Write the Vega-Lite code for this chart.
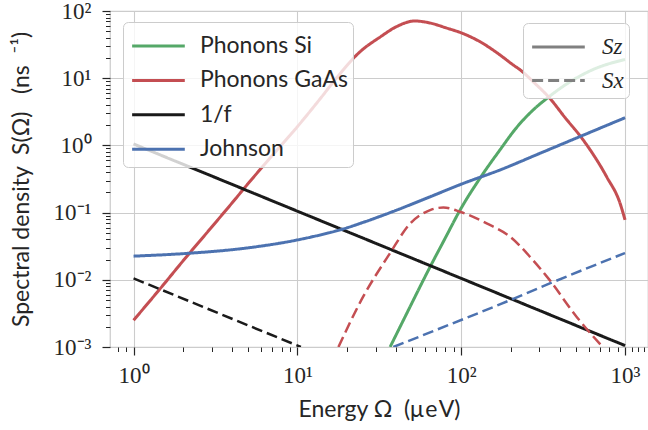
{
  "$schema": "https://vega.github.io/schema/vega-lite/v6.json",
  "width": 538,
  "height": 336,
  "autosize": {"type": "none"},
  "padding": {"left": 110, "top": 11, "right": 0, "bottom": 83},
  "background": "white",
  "config": {
    "font": "Lato",
    "view": {"stroke": "#cccccc", "strokeWidth": 1.25},
    "axis": {"domain": false, "labelColor": "#262626", "titleColor": "#262626", "tickColor": "#262626"},
    "legend": {"zindex": 5, "fillColor": "rgba(255,255,255,0.8)"}
  },
  "datasets": {
    "curves": [
      {"s": "Phonons Si", "p": "Sz", "x": 36.8, "y": 0.001},
      {"s": "Phonons Si", "p": "Sz", "x": 44.7, "y": 0.0026},
      {"s": "Phonons Si", "p": "Sz", "x": 64.6, "y": 0.0156},
      {"s": "Phonons Si", "p": "Sz", "x": 80, "y": 0.042},
      {"s": "Phonons Si", "p": "Sz", "x": 98.4, "y": 0.109},
      {"s": "Phonons Si", "p": "Sz", "x": 130, "y": 0.323},
      {"s": "Phonons Si", "p": "Sz", "x": 172, "y": 0.85},
      {"s": "Phonons Si", "p": "Sz", "x": 218, "y": 1.85},
      {"s": "Phonons Si", "p": "Sz", "x": 276, "y": 3.4},
      {"s": "Phonons Si", "p": "Sz", "x": 340, "y": 5.2},
      {"s": "Phonons Si", "p": "Sz", "x": 440, "y": 8.2},
      {"s": "Phonons Si", "p": "Sz", "x": 640, "y": 13.5},
      {"s": "Phonons Si", "p": "Sz", "x": 1000, "y": 19},

      {"s": "Phonons GaAs", "p": "Sz", "x": 1, "y": 0.0025},
      {"s": "Phonons GaAs", "p": "Sz", "x": 1.5, "y": 0.0081},
      {"s": "Phonons GaAs", "p": "Sz", "x": 2, "y": 0.019},
      {"s": "Phonons GaAs", "p": "Sz", "x": 3, "y": 0.061},
      {"s": "Phonons GaAs", "p": "Sz", "x": 4, "y": 0.14},
      {"s": "Phonons GaAs", "p": "Sz", "x": 5, "y": 0.27},
      {"s": "Phonons GaAs", "p": "Sz", "x": 7, "y": 0.7},
      {"s": "Phonons GaAs", "p": "Sz", "x": 10, "y": 1.9},
      {"s": "Phonons GaAs", "p": "Sz", "x": 14, "y": 5.2},
      {"s": "Phonons GaAs", "p": "Sz", "x": 17, "y": 9.5},
      {"s": "Phonons GaAs", "p": "Sz", "x": 24, "y": 24.5},
      {"s": "Phonons GaAs", "p": "Sz", "x": 32, "y": 41},
      {"s": "Phonons GaAs", "p": "Sz", "x": 40, "y": 58},
      {"s": "Phonons GaAs", "p": "Sz", "x": 52, "y": 71},
      {"s": "Phonons GaAs", "p": "Sz", "x": 65, "y": 66},
      {"s": "Phonons GaAs", "p": "Sz", "x": 81, "y": 56},
      {"s": "Phonons GaAs", "p": "Sz", "x": 103, "y": 46},
      {"s": "Phonons GaAs", "p": "Sz", "x": 130, "y": 35},
      {"s": "Phonons GaAs", "p": "Sz", "x": 165, "y": 24},
      {"s": "Phonons GaAs", "p": "Sz", "x": 208, "y": 15.7},
      {"s": "Phonons GaAs", "p": "Sz", "x": 229, "y": 13.3},
      {"s": "Phonons GaAs", "p": "Sz", "x": 280, "y": 8.5},
      {"s": "Phonons GaAs", "p": "Sz", "x": 348, "y": 5.0},
      {"s": "Phonons GaAs", "p": "Sz", "x": 430, "y": 2.6},
      {"s": "Phonons GaAs", "p": "Sz", "x": 556, "y": 1.2},
      {"s": "Phonons GaAs", "p": "Sz", "x": 773, "y": 0.34},
      {"s": "Phonons GaAs", "p": "Sz", "x": 933, "y": 0.137},
      {"s": "Phonons GaAs", "p": "Sz", "x": 1000, "y": 0.078},

      {"s": "Phonons GaAs", "p": "Sx", "x": 17.8, "y": 0.001},
      {"s": "Phonons GaAs", "p": "Sx", "x": 25.2, "y": 0.0056},
      {"s": "Phonons GaAs", "p": "Sx", "x": 36.7, "y": 0.0247},
      {"s": "Phonons GaAs", "p": "Sx", "x": 48.6, "y": 0.068},
      {"s": "Phonons GaAs", "p": "Sx", "x": 64.6, "y": 0.109},
      {"s": "Phonons GaAs", "p": "Sx", "x": 77.8, "y": 0.119},
      {"s": "Phonons GaAs", "p": "Sx", "x": 98.4, "y": 0.103},
      {"s": "Phonons GaAs", "p": "Sx", "x": 143, "y": 0.069},
      {"s": "Phonons GaAs", "p": "Sx", "x": 199, "y": 0.0437},
      {"s": "Phonons GaAs", "p": "Sx", "x": 263, "y": 0.022},
      {"s": "Phonons GaAs", "p": "Sx", "x": 340, "y": 0.0105},
      {"s": "Phonons GaAs", "p": "Sx", "x": 507, "y": 0.0028},
      {"s": "Phonons GaAs", "p": "Sx", "x": 730, "y": 0.001},

      {"s": "1/f", "p": "Sz", "x": 1, "y": 1.05},
      {"s": "1/f", "p": "Sz", "x": 10, "y": 0.105},
      {"s": "1/f", "p": "Sz", "x": 100, "y": 0.0105},
      {"s": "1/f", "p": "Sz", "x": 1000, "y": 0.00105},
      {"s": "1/f", "p": "Sx", "x": 1, "y": 0.0105},
      {"s": "1/f", "p": "Sx", "x": 10.5, "y": 0.001},

      {"s": "Johnson", "p": "Sz", "x": 1, "y": 0.0225},
      {"s": "Johnson", "p": "Sz", "x": 2.11, "y": 0.0247},
      {"s": "Johnson", "p": "Sz", "x": 4.67, "y": 0.0293},
      {"s": "Johnson", "p": "Sz", "x": 9.9, "y": 0.039},
      {"s": "Johnson", "p": "Sz", "x": 15.8, "y": 0.0505},
      {"s": "Johnson", "p": "Sz", "x": 19, "y": 0.057},
      {"s": "Johnson", "p": "Sz", "x": 25.2, "y": 0.0715},
      {"s": "Johnson", "p": "Sz", "x": 40.4, "y": 0.109},
      {"s": "Johnson", "p": "Sz", "x": 64.6, "y": 0.172},
      {"s": "Johnson", "p": "Sz", "x": 103, "y": 0.272},
      {"s": "Johnson", "p": "Sz", "x": 172, "y": 0.43},
      {"s": "Johnson", "p": "Sz", "x": 317, "y": 0.8},
      {"s": "Johnson", "p": "Sz", "x": 556, "y": 1.42},
      {"s": "Johnson", "p": "Sz", "x": 1000, "y": 2.58},
      {"s": "Johnson", "p": "Sx", "x": 38.5, "y": 0.001},
      {"s": "Johnson", "p": "Sx", "x": 103, "y": 0.0026},
      {"s": "Johnson", "p": "Sx", "x": 172, "y": 0.0043},
      {"s": "Johnson", "p": "Sx", "x": 350, "y": 0.0089},
      {"s": "Johnson", "p": "Sx", "x": 1000, "y": 0.025}
    ]
  },
  "data": {"name": "curves"},
  "resolve": {"axis": {"x": "independent", "y": "independent"}},
  "encoding": {
    "color": {
      "field": "s", "type": "nominal",
      "scale": {"domain": ["Phonons Si", "Phonons GaAs", "1/f", "Johnson"], "range": ["#55a868", "#c44e52", "#1a1a1a", "#4c72b0"]},
      "legend": {
        "title": null, "orient": "none", "legendX": 13, "legendY": 11,
        "fillColor": "rgba(255,255,255,0.8)", "strokeColor": "#cccccc", "cornerRadius": 5, "padding": 5,
        "symbolType": "M-0.85,0H2.16", "symbolSize": 1225, "symbolStrokeWidth": 3,
        "labelFont": "Lato", "labelFontSize": 23, "labelColor": "#262626", "labelOffset": 34, "rowPadding": 3.4,
        "zindex": 5,
        "encode": {"legend": {"update": {"fill": {"value": "rgba(255,255,255,0.8)"}}}}
      }
    },
    "strokeDash": {
      "field": "p", "type": "nominal",
      "scale": {"domain": ["Sz", "Sx"], "range": [[1, 0], [11, 5]]},
      "legend": {
        "title": null, "orient": "none", "legendX": 413, "legendY": 12,
        "fillColor": "rgba(255,255,255,0.8)", "strokeColor": "#cccccc", "cornerRadius": 5, "padding": 5,
        "symbolType": "M-0.85,0H2.16", "symbolSize": 1225, "symbolStrokeWidth": 3, "symbolStrokeColor": "#808080",
        "labelFont": "Liberation Serif", "labelFontStyle": "italic", "labelFontSize": 23, "labelColor": "#262626", "labelOffset": 36, "rowPadding": 2.5,
        "zindex": 5,
        "encode": {"legend": {"update": {"fill": {"value": "rgba(255,255,255,0.8)"}}}}
      }
    }
  },
  "layer": [
    {
      "transform": [{"filter": "datum.p == 'Sz'"}],
      "mark": {"type": "line", "strokeWidth": 3, "clip": true, "interpolate": "monotone"},
      "encoding": {
        "x": {
          "field": "x", "type": "quantitative",
          "scale": {"type": "log", "domain": [0.718, 1381], "nice": false},
          "axis": {
            "orient": "bottom", "values": [1, 10, 100, 1000],
            "labelExpr": "datum.value < 5 ? '10⁰' : datum.value < 50 ? '10¹' : datum.value < 500 ? '10²' : '10³'",
            "grid": true, "gridColor": "#cccccc", "gridWidth": 1.1,
            "tickSize": 8, "tickWidth": 1.2, "labelFont": "Liberation Serif", "labelFontSize": 23, "labelPadding": 9,
            "labelFlush": false, "labelOverlap": false,
            "title": "Energy\u00a0Ω\u00a0\u00a0(μ\u200ae\u200aV)", "titleFont": "Lato", "titleFontSize": 23, "titleFontWeight": "normal", "titlePadding": 11
          }
        },
        "y": {
          "field": "y", "type": "quantitative",
          "scale": {"type": "log", "domain": [0.001, 100], "nice": false},
          "axis": {
            "orient": "left", "values": [0.001, 0.01, 0.1, 1, 10, 100],
            "labelExpr": "datum.value < 0.005 ? '10⁻³' : datum.value < 0.05 ? '10⁻²' : datum.value < 0.5 ? '10⁻¹' : datum.value < 5 ? '10⁰' : datum.value < 50 ? '10¹' : '10²'",
            "grid": true, "gridColor": "#cccccc", "gridWidth": 1.1,
            "tickSize": 8, "tickWidth": 1.2, "labelFont": "Liberation Serif", "labelFontSize": 23, "labelPadding": 11,
            "labelFlush": false, "labelOverlap": false,
            "title": "Spectral density\u00a0\u00a0S(Ω)\u00a0\u00a0\u00a0(ns\u00a0\u00a0⁻¹)", "titleFont": "Lato", "titleFontSize": 23, "titleFontWeight": "normal", "titlePadding": 20
          }
        }
      }
    },
    {
      "transform": [{"filter": "datum.p == 'Sx'"}],
      "mark": {"type": "line", "strokeWidth": 2.5, "clip": true, "interpolate": "monotone"},
      "encoding": {
        "x": {
          "field": "x", "type": "quantitative",
          "scale": {"type": "log", "domain": [0.718, 1381], "nice": false},
          "axis": {
            "orient": "bottom",
            "values": [0.8, 0.9, 2, 3, 4, 5, 6, 7, 8, 9, 20, 30, 40, 50, 60, 70, 80, 90, 200, 300, 400, 500, 600, 700, 800, 900, 1100, 1200, 1300],
            "labels": false, "grid": false, "tickSize": 4.5, "tickWidth": 1, "title": null
          }
        },
        "y": {
          "field": "y", "type": "quantitative",
          "scale": {"type": "log", "domain": [0.001, 100], "nice": false},
          "axis": {
            "orient": "left",
            "values": [0.002, 0.003, 0.004, 0.005, 0.006, 0.007, 0.008, 0.009, 0.02, 0.03, 0.04, 0.05, 0.06, 0.07, 0.08, 0.09, 0.2, 0.3, 0.4, 0.5, 0.6, 0.7, 0.8, 0.9, 2, 3, 4, 5, 6, 7, 8, 9, 20, 30, 40, 50, 60, 70, 80, 90],
            "labels": false, "grid": false, "tickSize": 4.5, "tickWidth": 1, "title": null
          }
        }
      }
    }
  ]
}
